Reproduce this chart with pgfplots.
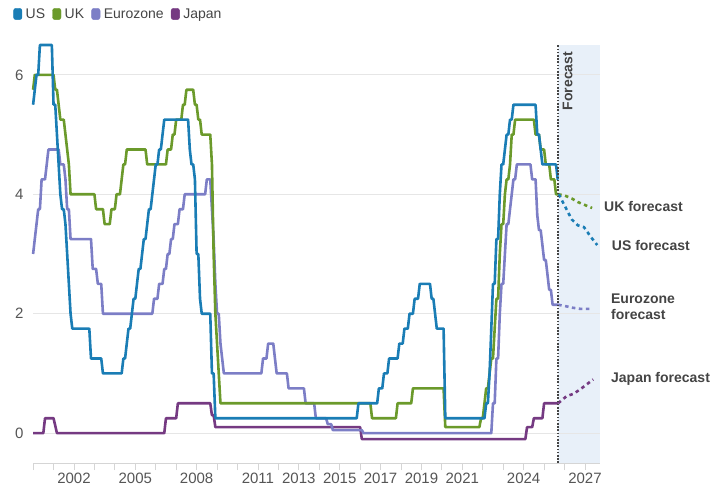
\documentclass[border=0pt]{standalone}
\usepackage{pgfplots}
\pgfplotsset{compat=1.18}
\usepackage{fontspec}
\setmainfont{Liberation Sans}

\definecolor{usblue}{HTML}{1A7DB5}
\definecolor{ukgreen}{HTML}{6B9A2B}
\definecolor{eulav}{HTML}{7C7EC6}
\definecolor{jppurple}{HTML}{753A82}
\definecolor{fcshade}{HTML}{E8F0F9}
\definecolor{labelgray}{HTML}{444444}
\definecolor{tickgray}{HTML}{555555}
\definecolor{gridgray}{HTML}{E6E6E6}
\definecolor{axisgray}{HTML}{D5D5D5}

\newcommand{\chartfont}{\fontsize{14bp}{16bp}\selectfont}
\newcommand{\tickfont}{\fontsize{15bp}{17bp}\selectfont}

\begin{document}
\begin{tikzpicture}
\path[use as bounding box] (-33.1bp,-34bp) rectangle (677.9bp,463bp);
\begin{axis}[
    at={(0,0)}, anchor=south west,
    width=567.2bp, height=418bp, scale only axis,
    xmin=2000, xmax=2027.75,
    ymin=-0.5, ymax=6.5,
    clip=false,
    font=\chartfont,
    axis x line*=bottom,
    axis y line*=left,
    x axis line style={draw=axisgray, line width=0.8bp},
    y axis line style={draw=none},
    xtick={2002,2005,2008,2011,2013,2015,2017,2019,2021,2024,2027},
    minor xtick={2000,...,2027},
    ytick={0,2,4,6},
    tick align=outside,
    major tick length=7bp,
    minor tick length=7bp,
    xtick style={draw=axisgray, line width=0.8bp},
    ytick style={draw=none},
    ymajorgrids=true,
    grid style={draw=gridgray, line width=0.8bp},
    ticklabel style={font=\tickfont, text=tickgray},
    yticklabel style={xshift=1bp},
    /pgf/number format/assume math mode=true,
    /pgf/number format/1000 sep={},
    legend columns=4,
    legend style={at={(0,1)}, anchor=west, xshift=-20bp, yshift=31bp,
        draw=none, fill=none, inner sep=0pt, font=\chartfont, text=labelgray,
        /tikz/every odd column/.append style={column sep=1.5bp},
        /tikz/every even column/.append style={column sep=5.2bp}},
    legend image code/.code={\fill[#1, rounded corners=2.5bp] (0bp,-5.7bp) rectangle (8.5bp,5.7bp);},
]

% forecast shading
\addplot[fill=fcshade, draw=none, forget plot] coordinates {
(2025.69,-0.5) (2025.69,6.5) (2027.75,6.5) (2027.75,-0.5)
} -- cycle;
\foreach \g in {0,2,4,6} {
  \edef\temp{\noexpand\draw[gridgray, line width=0.8bp] (axis cs:2025.69,\g) -- (axis cs:2027.75,\g);}
  \temp
}

% legend order: US, UK, Eurozone, Japan (drawn first, so Japan ends under US)
\addlegendimage{usblue}
\addlegendentry{US}
\addlegendimage{ukgreen}
\addlegendentry{UK}
\addlegendimage{eulav}
\addlegendentry{Eurozone}
\addlegendimage{jppurple}
\addlegendentry{Japan}

% Japan
\addplot[jppurple, line width=2.6bp, line join=round, forget plot] coordinates {
(2000.000,0.00) (2000.500,0.00) (2000.583,0.25) (2001.000,0.25) (2001.167,0.00)
(2006.417,0.00) (2006.500,0.25) (2007.000,0.25) (2007.083,0.50)
(2008.667,0.50) (2008.750,0.30) (2008.833,0.30) (2008.917,0.10)
(2016.000,0.10) (2016.083,-0.10) (2024.083,-0.10) (2024.167,0.10)
(2024.417,0.10) (2024.500,0.25) (2024.917,0.25) (2025.000,0.50) (2025.690,0.50)
};

% Eurozone
\addplot[eulav, line width=2.6bp, line join=round, forget plot] coordinates {
(2000.000,3.00) (2000.083,3.25) (2000.167,3.50) (2000.250,3.75) (2000.333,3.75)
(2000.417,4.25) (2000.583,4.25) (2000.667,4.50) (2000.750,4.75)
(2001.250,4.75) (2001.333,4.50) (2001.500,4.50) (2001.583,4.25) (2001.667,3.75)
(2001.750,3.75) (2001.833,3.25) (2002.833,3.25) (2002.917,2.75)
(2003.083,2.75) (2003.167,2.50) (2003.333,2.50) (2003.417,2.00)
(2005.833,2.00) (2005.917,2.25) (2006.083,2.25) (2006.167,2.50) (2006.333,2.50)
(2006.417,2.75) (2006.500,2.75) (2006.583,3.00) (2006.667,3.00) (2006.750,3.25)
(2006.833,3.25) (2006.917,3.50) (2007.083,3.50) (2007.167,3.75) (2007.333,3.75)
(2007.417,4.00) (2008.417,4.00) (2008.500,4.25) (2008.667,4.25) (2008.750,3.75)
(2008.833,3.25) (2008.917,2.50) (2009.000,2.00) (2009.083,2.00) (2009.167,1.50)
(2009.250,1.25) (2009.333,1.00) (2011.167,1.00) (2011.250,1.25) (2011.417,1.25)
(2011.500,1.50) (2011.750,1.50) (2011.833,1.25) (2011.917,1.00) (2012.417,1.00)
(2012.500,0.75) (2013.250,0.75) (2013.333,0.50) (2013.750,0.50) (2013.833,0.25)
(2014.333,0.25) (2014.417,0.15) (2014.583,0.15) (2014.667,0.05) (2016.083,0.05)
(2016.167,0.00) (2022.417,0.00) (2022.500,0.50) (2022.583,0.50) (2022.667,1.25)
(2022.750,1.25) (2022.833,2.00) (2022.917,2.50) (2023.000,2.50) (2023.083,3.00)
(2023.167,3.50) (2023.250,3.50) (2023.333,3.75) (2023.417,4.00) (2023.500,4.25)
(2023.583,4.25) (2023.667,4.50) (2024.333,4.50) (2024.417,4.25) (2024.583,4.25)
(2024.667,3.65) (2024.750,3.40) (2024.833,3.40) (2024.917,3.15) (2025.000,2.90)
(2025.083,2.90) (2025.167,2.65) (2025.250,2.40) (2025.333,2.40) (2025.417,2.15)
(2025.690,2.15)
};

% UK
\addplot[ukgreen, line width=2.6bp, line join=round, forget plot] coordinates {
(2000.000,5.75) (2000.083,6.00) (2001.000,6.00) (2001.083,5.75) (2001.167,5.75)
(2001.250,5.50) (2001.333,5.25) (2001.500,5.25) (2001.583,5.00) (2001.667,4.75)
(2001.750,4.50) (2001.833,4.00) (2003.000,4.00) (2003.083,3.75) (2003.417,3.75)
(2003.500,3.50) (2003.750,3.50) (2003.833,3.75) (2004.000,3.75) (2004.083,4.00)
(2004.250,4.00) (2004.333,4.25) (2004.417,4.50) (2004.500,4.50) (2004.583,4.75)
(2005.500,4.75) (2005.583,4.50) (2006.500,4.50) (2006.583,4.75) (2006.750,4.75)
(2006.833,5.00) (2006.917,5.00) (2007.000,5.25) (2007.250,5.25) (2007.333,5.50)
(2007.417,5.50) (2007.500,5.75) (2007.833,5.75) (2007.917,5.50) (2008.000,5.50)
(2008.083,5.25) (2008.167,5.25) (2008.250,5.00) (2008.667,5.00) (2008.750,4.50)
(2008.833,3.00) (2008.917,2.00) (2009.000,1.50) (2009.083,1.00) (2009.167,0.50)
(2016.500,0.50) (2016.583,0.25) (2017.750,0.25) (2017.833,0.50) (2018.500,0.50)
(2018.583,0.75) (2020.083,0.75) (2020.167,0.10) (2021.833,0.10) (2021.917,0.25)
(2022.000,0.25) (2022.083,0.50) (2022.167,0.75) (2022.250,0.75) (2022.333,1.00)
(2022.417,1.25) (2022.500,1.25) (2022.583,1.75) (2022.667,2.25) (2022.750,2.25)
(2022.833,3.00) (2022.917,3.50) (2023.000,3.50) (2023.083,4.00) (2023.167,4.25)
(2023.250,4.25) (2023.333,4.50) (2023.417,5.00) (2023.500,5.00) (2023.583,5.25)
(2024.500,5.25) (2024.583,5.00) (2024.750,5.00) (2024.833,4.75) (2025.000,4.75)
(2025.083,4.50) (2025.250,4.50) (2025.333,4.25) (2025.500,4.25) (2025.583,4.00)
(2025.690,4.00)
};

% US
\addplot[usblue, line width=2.6bp, line join=round, forget plot] coordinates {
(2000.000,5.50) (2000.083,5.75) (2000.167,6.00) (2000.250,6.00) (2000.333,6.50)
(2000.917,6.50) (2001.000,5.50) (2001.083,5.50) (2001.167,5.00) (2001.250,4.50)
(2001.333,4.00) (2001.417,3.75) (2001.500,3.75) (2001.583,3.50) (2001.667,3.00)
(2001.750,2.50) (2001.833,2.00) (2001.917,1.75) (2002.750,1.75) (2002.833,1.25)
(2003.333,1.25) (2003.417,1.00) (2004.333,1.00) (2004.417,1.25) (2004.500,1.25)
(2004.583,1.50) (2004.667,1.75) (2004.750,1.75) (2004.833,2.00) (2004.917,2.25)
(2005.000,2.25) (2005.083,2.50) (2005.167,2.75) (2005.250,2.75) (2005.333,3.00)
(2005.417,3.25) (2005.500,3.25) (2005.583,3.50) (2005.667,3.75) (2005.750,3.75)
(2005.833,4.00) (2005.917,4.25) (2006.000,4.50) (2006.083,4.50) (2006.167,4.75)
(2006.250,4.75) (2006.333,5.00) (2006.417,5.25) (2007.583,5.25) (2007.667,4.75)
(2007.750,4.50) (2007.833,4.50) (2007.917,4.25) (2008.000,3.00) (2008.083,3.00)
(2008.167,2.25) (2008.250,2.00) (2008.667,2.00) (2008.750,1.00) (2008.833,1.00)
(2008.917,0.25) (2015.833,0.25) (2015.917,0.50) (2016.833,0.50) (2016.917,0.75)
(2017.083,0.75) (2017.167,1.00) (2017.333,1.00) (2017.417,1.25) (2017.833,1.25)
(2017.917,1.50) (2018.083,1.50) (2018.167,1.75) (2018.333,1.75) (2018.417,2.00)
(2018.583,2.00) (2018.667,2.25) (2018.833,2.25) (2018.917,2.50) (2019.417,2.50)
(2019.500,2.25) (2019.583,2.25) (2019.667,2.00) (2019.750,1.75) (2020.083,1.75)
(2020.167,0.25) (2022.083,0.25) (2022.167,0.50) (2022.250,0.50) (2022.333,1.00)
(2022.417,1.75) (2022.500,2.50) (2022.583,2.50) (2022.667,3.25) (2022.750,3.25)
(2022.833,4.00) (2022.917,4.50) (2023.000,4.50) (2023.083,4.75) (2023.167,5.00)
(2023.250,5.00) (2023.333,5.25) (2023.417,5.25) (2023.500,5.50) (2024.583,5.50)
(2024.667,5.00) (2024.750,5.00) (2024.833,4.75) (2024.917,4.50) (2025.583,4.50)
(2025.667,4.25) (2025.690,4.25)
};

% forecasts
\addplot[jppurple, line width=2.6bp, dash pattern=on 3.5bp off 3.5bp, forget plot] coordinates {
(2025.69,0.50) (2026.10,0.62) (2026.45,0.66) (2026.75,0.73) (2027.10,0.82) (2027.40,0.90)
};
\addplot[eulav, line width=2.6bp, dash pattern=on 3.5bp off 3.5bp, forget plot] coordinates {
(2025.69,2.15) (2026.00,2.13) (2026.40,2.10) (2026.80,2.08) (2027.35,2.08)
};
\addplot[ukgreen, line width=2.6bp, dash pattern=on 3.5bp off 3.5bp, forget plot] coordinates {
(2025.69,4.00) (2026.00,3.98) (2026.35,3.93) (2026.65,3.87) (2027.00,3.82) (2027.35,3.77)
};
\addplot[usblue, line width=2.6bp, dash pattern=on 3.5bp off 3.5bp, forget plot] coordinates {
(2025.72,4.00) (2026.35,3.58) (2026.65,3.48) (2026.95,3.45) (2027.30,3.28) (2027.60,3.15)
};

\draw[labelgray, line width=1.6bp, dash pattern=on 1.6bp off 1.6bp]
    (axis cs:2025.69,-0.5) -- (axis cs:2025.69,6.5);

\node[rotate=90, inner sep=0pt, font=\chartfont\bfseries, text=labelgray, anchor=east]
    at (axis cs:2026.15,6.39) {Forecast};
\node[inner sep=0pt, font=\chartfont\bfseries, text=labelgray, anchor=west]
    at (axis cs:2027.93,3.79) {UK forecast};
\node[inner sep=0pt, font=\chartfont\bfseries, text=labelgray, anchor=west]
    at (axis cs:2028.31,3.15) {US forecast};
\node[inner sep=0pt, font=\chartfont\bfseries, text=labelgray, anchor=west, align=left]
    at (axis cs:2028.27,2.11) {Eurozone\\forecast};
\node[inner sep=0pt, font=\chartfont\bfseries, text=labelgray, anchor=west]
    at (axis cs:2028.27,0.91) {Japan forecast};

\end{axis}
\end{tikzpicture}
\end{document}
